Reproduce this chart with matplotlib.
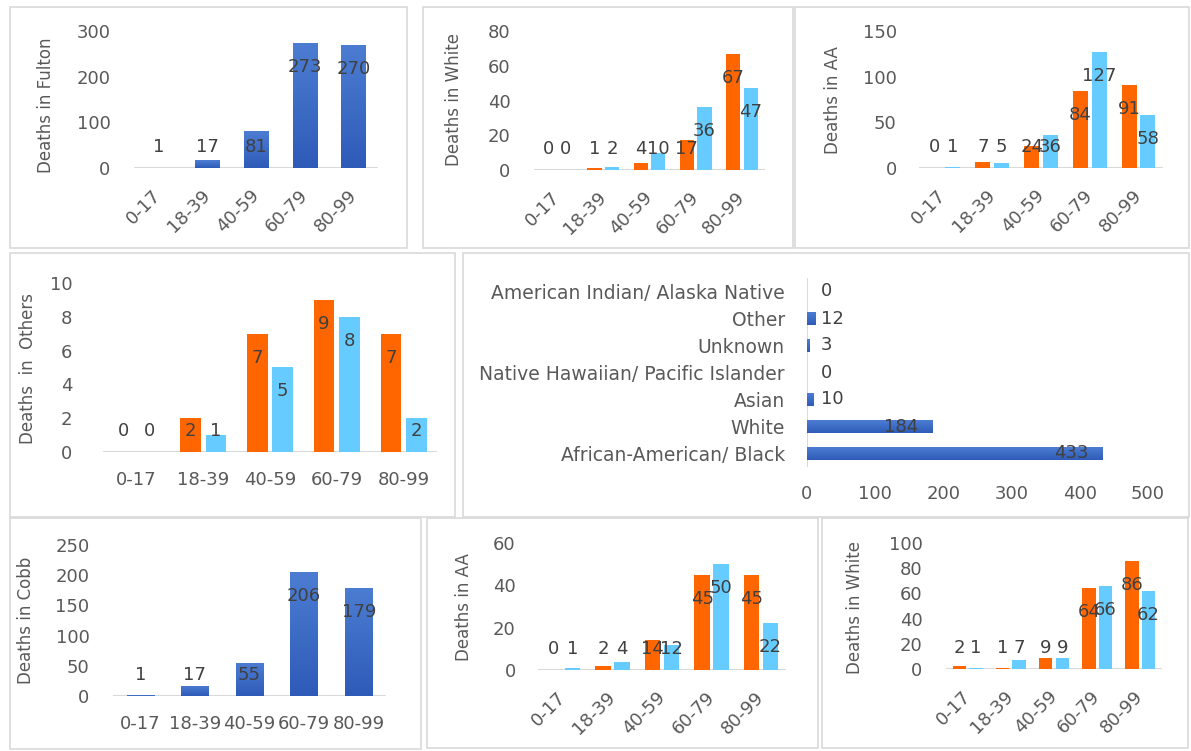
import matplotlib
matplotlib.use("Agg")
import matplotlib.pyplot as plt
import numpy as np
from matplotlib.patches import Rectangle
from matplotlib.colors import LinearSegmentedColormap

# ---------------- data ----------------
ages = ['0-17', '18-39', '40-59', '60-79', '80-99']

fulton_total = [1, 17, 81, 273, 270]
fulton_white_orange = [0, 1, 4, 17, 67]
fulton_white_blue = [0, 2, 10, 36, 47]
fulton_aa_orange = [0, 7, 24, 84, 91]
fulton_aa_blue = [1, 5, 36, 127, 58]
others_orange = [0, 2, 7, 9, 7]
others_blue = [0, 1, 5, 8, 2]

race_labels = ['African-American/ Black', 'White', 'Asian',
               'Native Hawaiian/ Pacific Islander', 'Unknown', 'Other',
               'American Indian/ Alaska Native']
race_values = [433, 184, 10, 0, 3, 12, 0]

cobb_total = [1, 17, 55, 206, 179]
cobb_aa_orange = [0, 2, 14, 45, 45]
cobb_aa_blue = [1, 4, 12, 50, 22]
cobb_white_orange = [2, 1, 9, 64, 86]
cobb_white_blue = [1, 7, 9, 66, 62]

# ---------------- style ----------------
W, H = 1191, 751
FONT = 'DejaVu Sans'
plt.rcParams['font.family'] = [FONT]
TXT = '#595959'
LBL = '#404040'
GRID = '#D9D9D9'
ORANGE = '#FF6600'
LBLUE = '#66CCFF'
blue_cmap = LinearSegmentedColormap.from_list('b', ['#2E5BB8', '#4C7DD2'])
FS = 13
YLFS = 12

fig = plt.figure(figsize=(W / 100, H / 100), dpi=100)
fig.patch.set_facecolor('white')


def px_rect(l, t, r, b):
    return [l / W, 1 - b / H, (r - l) / W, (b - t) / H]


def box(l, t, r, b):
    fig.patches.append(Rectangle((l / W, 1 - b / H), (r - l) / W, (b - t) / H,
                                 transform=fig.transFigure, fill=False,
                                 edgecolor=GRID, lw=1.2, zorder=0))


def gradient_fill(ax, bars):
    grad = np.linspace(0, 1, 64).reshape(-1, 1)
    for b in bars:
        x, y, w, h = b.get_x(), b.get_y(), b.get_width(), b.get_height()
        if w == 0 or h == 0:
            continue
        b.set_facecolor('none')
        im = ax.imshow(grad, extent=[x, x + w, y, y + h], origin='lower',
                       aspect='auto', cmap=blue_cmap, zorder=2)
        im.set_clip_path(b)


def style_axes(ax, ymax, step, ylabel, ylabel_px, ypad, rotate, xpad):
    for s in ax.spines.values():
        s.set_visible(False)
    ax.set_xlim(-0.5, 4.5)
    ax.set_ylim(0, ymax)
    ax.set_yticks(np.arange(0, ymax + step / 2, step))
    ax.set_xticks(range(len(ages)))
    ax.axhline(0, color=GRID, lw=1.5, zorder=1)
    ax.tick_params(axis='both', length=0, labelsize=FS, colors=TXT)
    ax.tick_params(axis='y', pad=ypad)
    if rotate:
        ax.set_xticklabels(ages, rotation=45, ha='right', va='center',
                           rotation_mode='anchor')
    else:
        ax.set_xticklabels(ages)
    ax.tick_params(axis='x', pad=xpad)
    ax.set_ylabel(ylabel, fontsize=YLFS, color=TXT)
    fx, fy = ylabel_px
    ax.yaxis.set_label_coords(fx / W, 1 - fy / H, transform=fig.transFigure)
    ax.patch.set_alpha(0)


def value_labels(ax, xs, vals):
    for x, v in zip(xs, vals):
        top = ax.transData.transform((x, v))[1]
        base = ax.transData.transform((x, 0))[1]
        ydisp = max(top - 24, base + 21)
        y = ax.transData.inverted().transform((0, ydisp))[1]
        ax.text(x, y, str(v), ha='center', va='center', fontsize=FS,
                color=LBL, zorder=5)


def single_panel(rect, vals, ymax, step, ylabel, ylabel_px, ypad, rotate, xpad):
    ax = fig.add_axes(px_rect(*rect))
    x = np.arange(len(ages))
    bars = ax.bar(x, vals, width=0.5, color='#3A69C6', zorder=2)
    style_axes(ax, ymax, step, ylabel, ylabel_px, ypad, rotate, xpad)
    gradient_fill(ax, bars)
    ax.set_xlim(-0.5, 4.5)
    ax.set_ylim(0, ymax)
    value_labels(ax, x, vals)
    return ax


def pair_panel(rect, v1, v2, ymax, step, ylabel, ylabel_px, ypad, rotate, xpad):
    ax = fig.add_axes(px_rect(*rect))
    x = np.arange(len(ages))
    ax.bar(x - 0.19, v1, width=0.31, color=ORANGE, zorder=2)
    ax.bar(x + 0.19, v2, width=0.31, color=LBLUE, zorder=2)
    style_axes(ax, ymax, step, ylabel, ylabel_px, ypad, rotate, xpad)
    value_labels(ax, x - 0.19, v1)
    value_labels(ax, x + 0.19, v2)
    return ax


# panel borders
box(10, 7, 407, 248)
box(423, 7, 793, 248)
box(795, 7, 1189, 248)
box(10, 253, 455, 517)
box(463, 253, 1189, 517)
box(10, 518, 421, 749)
box(427, 518, 818, 748)
box(822, 518, 1188, 748)

ROT_PAD = 18

# top row
single_panel((134, 31, 378, 168), fulton_total, 300, 100, 'Deaths in Fulton',
             (55, 105), 17, True, ROT_PAD)
pair_panel((534, 31, 765, 170), fulton_white_orange, fulton_white_blue, 80, 20,
           'Deaths in White', (463, 100), 17, True, ROT_PAD)
pair_panel((919, 31, 1163, 168), fulton_aa_orange, fulton_aa_blue, 150, 50,
           'Deaths in AA', (842, 100), 16, True, ROT_PAD)

# middle row
pair_panel((103, 283, 437, 452), others_orange, others_blue, 10, 2,
           'Deaths  in  Others', (37, 368), 22, False, 14)

ax5 = fig.add_axes(px_rect(807, 278, 1148, 467))
yy = np.arange(len(race_labels))
hb = ax5.barh(yy, race_values, height=0.45, color='#3A69C6', zorder=2)
for s in ax5.spines.values():
    s.set_visible(False)
ax5.set_xlim(0, 500)
ax5.set_ylim(-0.5, len(race_labels) - 0.5)
ax5.set_xticks(np.arange(0, 501, 100))
ax5.set_yticks(yy)
ax5.set_yticklabels(race_labels, fontsize=13.5)
ax5.tick_params(axis='x', labelsize=FS)
ax5.tick_params(axis='both', length=0, colors=TXT)
ax5.tick_params(axis='y', pad=16)
ax5.tick_params(axis='x', pad=13)
ax5.axvline(0, color=GRID, lw=1.5, zorder=1)
gradient_fill(ax5, hb)
ax5.set_xlim(0, 500)
ax5.set_ylim(-0.5, len(race_labels) - 0.5)
ax5.patch.set_alpha(0)
for y, v in zip(yy, race_values):
    end = ax5.transData.transform((v, y))[0]
    base = ax5.transData.transform((0, y))[0]
    if end - base > 60:
        xd = ax5.transData.inverted().transform((end - 14, 0))[0]
        ax5.text(xd, y, str(v), ha='right', va='center', fontsize=FS, color=LBL, zorder=5)
    else:
        xd = ax5.transData.inverted().transform((base + 14, 0))[0]
        ax5.text(xd, y, str(v), ha='left', va='center', fontsize=FS, color=LBL, zorder=5)

# bottom row
single_panel((113, 545, 386, 696), cobb_total, 250, 50, 'Deaths in Cobb',
             (35, 620), 17, False, 14)
pair_panel((538, 543, 786, 670), cobb_aa_orange, cobb_aa_blue, 60, 20,
           'Deaths in AA', (473, 607), 16, True, ROT_PAD)
pair_panel((946, 543, 1162, 669), cobb_white_orange, cobb_white_blue, 100, 20,
           'Deaths in White', (864, 607), 17, True, ROT_PAD)

fig.savefig('out.png', dpi=100, facecolor='white')
